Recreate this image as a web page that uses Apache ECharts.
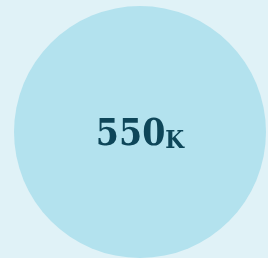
<!DOCTYPE html>
<html><head><meta charset="utf-8">
<style>html,body{margin:0;padding:0;background:#e0f2f7;}#c{width:268px;height:258px;}</style>
<script src="https://cdn.jsdelivr.net/npm/echarts@6/dist/echarts.min.js"></script>
</head><body><div id="c"></div>
<script>
var categories = ['Total'];
var values = [550];
var units = ['K'];
var chart = echarts.init(document.getElementById('c'), null, {renderer:'canvas'});
chart.setOption({
  backgroundColor: '#e0f2f7',
  animation: false,
  series: [{
    type: 'pie',
    center: [140, 132],
    radius: [0, 126],
    silent: true,
    itemStyle: { color: '#b3e2ee' },
    label: {
      show: true,
      position: 'center',
      offset: [0, 3],
      formatter: function(p){ return '{a|' + p.value + '}{b|' + units[p.dataIndex] + '}'; },
      rich: {
        a: { fontFamily: 'DejaVu Serif Condensed', fontWeight: 'bold', fontSize: 37, color: '#0e4659' },
        b: { fontFamily: 'DejaVu Serif Condensed', fontWeight: 'bold', fontSize: 24, color: '#0e4659', verticalAlign: 'bottom' }
      }
    },
    labelLine: { show: false },
    data: categories.map(function(c, i){ return { name: c, value: values[i] }; })
  }]
});
</script></body></html>
